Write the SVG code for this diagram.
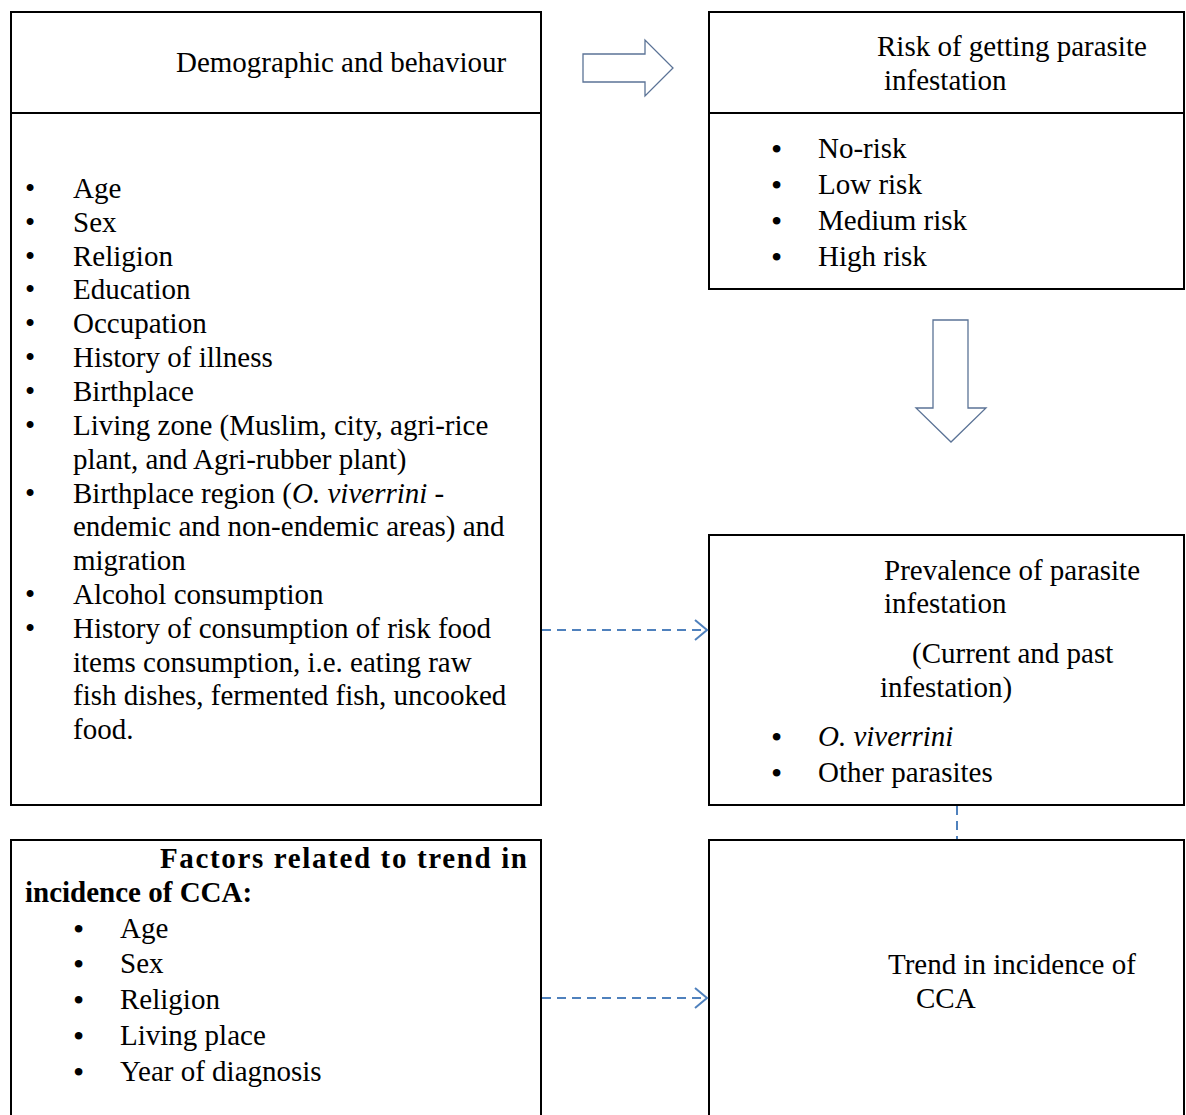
<svg xmlns="http://www.w3.org/2000/svg" width="1186" height="1115" viewBox="0 0 1186 1115">
<style>
.box{fill:#fff;stroke:#000;stroke-width:2}
.t{font-family:"Liberation Serif","Times New Roman",serif;font-size:29px;fill:#000}
.b{font-weight:bold}
.i{font-style:italic}
.big{font-size:32px}
.blk{fill:#fff;stroke:#5b7396;stroke-width:1.3}
.dash{fill:none;stroke:#4f81bd;stroke-width:2;stroke-dasharray:9 6}
</style>
<defs>
<marker id="open" markerWidth="16" markerHeight="24" refX="14" refY="12" orient="auto" markerUnits="userSpaceOnUse">
<path d="M2,2 L14,12 L2,22" fill="none" stroke="#4f81bd" stroke-width="2"/>
</marker>
</defs>
<rect width="1186" height="1115" fill="#fff"/>
<g id="demographic">
<rect class="box" x="11" y="12" width="530" height="793"/>
<line x1="11" y1="113" x2="541" y2="113" stroke="#000" stroke-width="2"/>
<text class="t" x="176" y="72">Demographic and behaviour</text>
<g class="t">
<text x="25" y="198">•</text><text x="73" y="198">Age</text>
<text x="25" y="232">•</text><text x="73" y="232">Sex</text>
<text x="25" y="266">•</text><text x="73" y="266">Religion</text>
<text x="25" y="299">•</text><text x="73" y="299">Education</text>
<text x="25" y="333">•</text><text x="73" y="333">Occupation</text>
<text x="25" y="367">•</text><text x="73" y="367">History of illness</text>
<text x="25" y="401">•</text><text x="73" y="401">Birthplace</text>
<text x="25" y="435">•</text><text x="73" y="435">Living zone (Muslim, city, agri-rice</text>
<text x="73" y="469">plant, and Agri-rubber plant)</text>
<text x="25" y="503">•</text><text x="73" y="503">Birthplace region (<tspan class="i">O. viverrini</tspan> -</text>
<text x="73" y="536">endemic and non-endemic areas) and</text>
<text x="73" y="570">migration</text>
<text x="25" y="604">•</text><text x="73" y="604">Alcohol consumption</text>
<text x="25" y="638">•</text><text x="73" y="638">History of consumption of risk food</text>
<text x="73" y="672">items consumption, i.e. eating raw</text>
<text x="73" y="705">fish dishes, fermented fish, uncooked</text>
<text x="73" y="739">food.</text>
</g>
</g>
<g id="risk">
<rect class="box" x="709" y="12" width="475" height="277"/>
<line x1="709" y1="113" x2="1184" y2="113" stroke="#000" stroke-width="2"/>
<text class="t" x="877" y="56">Risk of getting parasite</text>
<text class="t" x="884" y="90">infestation</text>
<g class="t">
<text class="big" x="771" y="160">•</text><text x="818" y="158">No-risk</text>
<text class="big" x="771" y="196">•</text><text x="818" y="194">Low risk</text>
<text class="big" x="771" y="232">•</text><text x="818" y="230">Medium risk</text>
<text class="big" x="771" y="268">•</text><text x="818" y="266">High risk</text>
</g>
</g>
<g id="prevalence">
<rect class="box" x="709" y="535" width="475" height="270"/>
<g class="t">
<text x="884" y="580">Prevalence of parasite</text>
<text x="884" y="613">infestation</text>
<text x="912" y="663">(Current and past</text>
<text x="880" y="697">infestation)</text>
<text class="big" x="771" y="748">•</text><text class="i" x="818" y="746">O. viverrini</text>
<text class="big" x="771" y="784">•</text><text x="818" y="782">Other parasites</text>
</g>
</g>
<g id="factors">
<rect class="box" x="11" y="840" width="530" height="285"/>
<g class="t b">
<text x="160" y="868" textLength="367" lengthAdjust="spacing">Factors related to trend in</text>
<text x="25" y="902">incidence of CCA:</text>
</g>
<g class="t">
<text class="big" x="73" y="940">•</text><text x="120" y="938">Age</text>
<text class="big" x="73" y="975">•</text><text x="120" y="973">Sex</text>
<text class="big" x="73" y="1011">•</text><text x="120" y="1009">Religion</text>
<text class="big" x="73" y="1047">•</text><text x="120" y="1045">Living place</text>
<text class="big" x="73" y="1083">•</text><text x="120" y="1081">Year of diagnosis</text>
</g>
</g>
<g id="trend">
<rect class="box" x="709" y="840" width="475" height="285"/>
<text class="t" x="888" y="974">Trend in incidence of</text>
<text class="t" x="916" y="1008">CCA</text>
</g>
<g id="connectors">
<path class="blk" d="M583,54 H645 V40 L673,68 L645,96 V82 H583 Z"/>
<path class="blk" d="M933,320 H968 V408 H986 L951,442 L916,408 H933 Z"/>
<line class="dash" x1="542" y1="630" x2="707" y2="630" marker-end="url(#open)"/>
<line class="dash" x1="542" y1="998" x2="707" y2="998" marker-end="url(#open)"/>
<line class="dash" x1="957" y1="806" x2="957" y2="839"/>
</g>
</svg>
